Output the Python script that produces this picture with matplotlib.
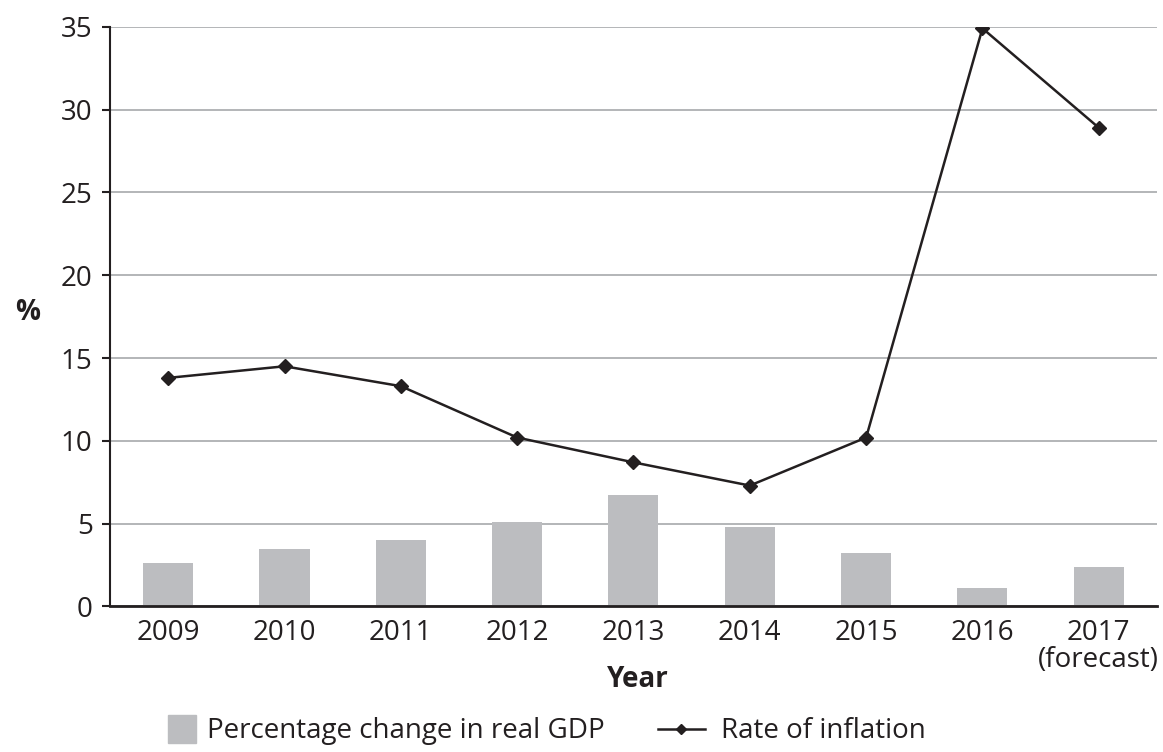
import matplotlib.pyplot as plt
from matplotlib.lines import Line2D

plt.rcParams['font.family'] = ['Open Sans', 'DejaVu Sans']

# data
years = ['2009', '2010', '2011', '2012', '2013', '2014', '2015', '2016', '2017\n(forecast)']
gdp_change = [2.6, 3.5, 4.0, 5.1, 6.7, 4.8, 3.2, 1.1, 2.4]
inflation = [13.8, 14.5, 13.3, 10.2, 8.7, 7.3, 10.2, 34.9, 28.9]

bar_col = '#bcbdc0'
ink = '#231f20'
FS = 20

fig = plt.figure(figsize=(11.63, 7.52), dpi=100)
ax = fig.add_axes([0.0946, 0.1935, 0.9002, 0.771])

x = list(range(len(years)))
ax.bar(x, gdp_change, width=0.43, color=bar_col, zorder=2)
ax.plot(x, inflation, color=ink, linewidth=1.8, marker='D', markersize=7.5, zorder=3)

ax.set_xlim(-0.5, len(years) - 0.5)
ax.set_ylim(0, 35)
ax.set_yticks(range(0, 36, 5))
ax.set_xticks(x)
ax.set_xticklabels(years, fontsize=FS, color=ink, linespacing=0.95)
ax.tick_params(axis='y', labelsize=FS, colors=ink, length=6, width=1.5, pad=6.5)
ax.tick_params(axis='x', length=0, pad=9)

ax.grid(axis='y', color='#a7a9ac', linewidth=1.2, zorder=0)
ax.set_axisbelow(True)
for s in ['top', 'right']:
    ax.spines[s].set_visible(False)
ax.spines['left'].set_color(ink)
ax.spines['left'].set_linewidth(1.5)
ax.spines['bottom'].set_color(ink)
ax.spines['bottom'].set_linewidth(2)

fig.text(0.5486, 0.0864, 'Year', fontsize=FS, fontweight='bold', color=ink,
         ha='center', va='baseline')
fig.text(0.024, 0.584, '%', fontsize=FS, fontweight='bold', color=ink,
         ha='center', va='center')

# two single-entry legends so each handle gets its own width
fig.legend([Line2D([], [], linestyle='none', marker='s', markersize=19.5, color=bar_col)],
           ['Percentage change in real GDP'],
           loc='center left', bbox_to_anchor=(168 / 1163, 0.0273), frameon=False,
           fontsize=FS, handlelength=1.0, handletextpad=0.4,
           borderpad=0, borderaxespad=0, labelcolor=ink)
fig.legend([Line2D([], [], color=ink, linewidth=1.8, marker='D', markersize=5)],
           ['Rate of inflation'],
           loc='center left', bbox_to_anchor=(658 / 1163, 0.0273), frameon=False,
           fontsize=FS, handlelength=1.69, handletextpad=0.58,
           borderpad=0, borderaxespad=0, labelcolor=ink)

fig.savefig('out.png', dpi=100)
